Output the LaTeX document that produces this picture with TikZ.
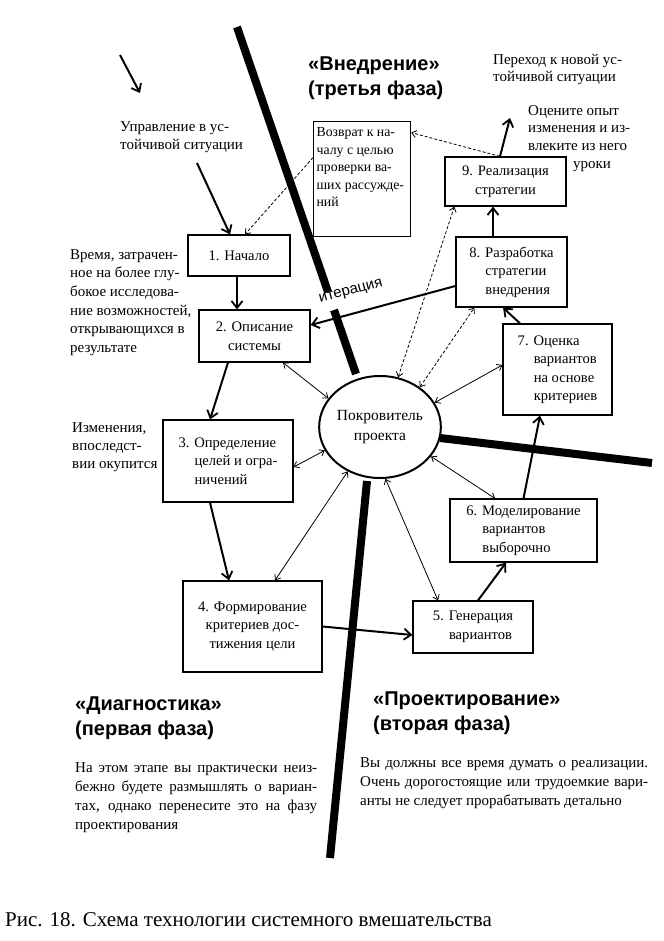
\documentclass[tikz,border=0pt]{standalone}
\usepackage{fontspec}
\setmainfont{Liberation Serif}
\newfontfamily\hsans{Liberation Sans}
\usetikzlibrary{arrows.meta,shapes.geometric,calc}
\newcommand\txtfont{\fontsize{14.6}{18.5}\selectfont}
\newcommand\hind{\hspace*{1.1em}}
\begin{document}
\begin{tikzpicture}[x=1pt,y=-1pt,
  every node/.style={inner sep=0pt},
  box/.style={draw, line width=1.2pt, align=center, font=\txtfont},
  txt/.style={anchor=north west, align=left, font=\fontsize{15}{18.5}\selectfont},
  head/.style={anchor=north west, align=left, font=\hsans\bfseries\fontsize{20}{24.5}\selectfont},
  para/.style={anchor=north west, align=justify, font=\fontsize{15}{19.2}\selectfont},
  phase/.style={line width=8pt, line cap=butt},
  flow/.style={line width=2pt, -{Straight Barb[length=7pt,width=11pt,line width=1.8pt]}},
  thin/.style={line width=0.8pt, {Straight Barb[length=4.5pt,width=7pt]}-{Straight Barb[length=4.5pt,width=7pt]}},
  dsh/.style={line width=0.8pt, dash pattern=on 3pt off 2pt}
]
\useasboundingbox[fill=white] (0,0) rectangle (663,941);

% phase separators
\draw[phase] (237,27) -- (328,292);
\draw[phase] (334,310) -- (356,374);
\draw[phase] (440,438) -- (652,463);
\draw[phase] (367,481) -- (330,858);

% boxes
\node[box, minimum width=102pt, minimum height=41pt] (b1) at (239,255.5) {1. Начало};
\node[box, minimum width=111pt, minimum height=52pt] (b2) at (254.5,336) {2. Описание\\системы};
\node[box, align=left, minimum width=130pt, minimum height=82pt] (b3) at (228,461) {3. Определение\\\hind целей и огра-\\\hind ничений};
\node[box, minimum width=139pt, minimum height=91pt] (b4) at (252.5,626.5) {4. Формирование\\критериев дос-\\тижения цели};
\node[box, align=left, minimum width=120pt, minimum height=52pt] (b5) at (473,627) {5. Генерация\\\hind вариантов};
\node[box, align=left, minimum width=147pt, minimum height=63pt] (b6) at (523.5,530.5) {6. Моделирование\\\hind вариантов\\\hind выборочно};
\node[box, align=left, minimum width=109pt, minimum height=91pt] (b7) at (557.5,369.5) {7. Оценка\\\hind вариантов\\\hind на основе\\\hind критериев};
\node[box, align=left, minimum width=111pt, minimum height=70pt] (b8) at (511.5,272) {8. Разработка\\\hind стратегии\\\hind внедрения};
\node[box, minimum width=121pt, minimum height=49pt] (b9) at (505.5,181.5) {9. Реализация\\стратегии};
\node[box, anchor=north west, inner xsep=3pt, inner ysep=3pt] (bR) at (313,121)
  {\parbox[t][109pt][t]{91pt}{\fontsize{13.8}{17.5}\selectfont\raggedright\strut Возврат к на-\\чалу с целью\\проверки ва-\\ших рассужде-\\ний}};
\node[draw, ellipse, line width=2pt, minimum width=118pt, minimum height=102pt, align=center, font=\fontsize{15.5}{19.5}\selectfont] (E) at (380,427) {Покровитель\\проекта};

% free texts
\node[txt] (tUpr) at (120,121) {Управление в ус-\\тойчивой ситуации};
\node[txt, font=\fontsize{15}{18.7}\selectfont] (tVr) at (70,249) {Время, затрачен-\\ное на более глу-\\бокое исследова-\\ние возможностей,\\открывающихся в\\результате};
\node[txt, font=\fontsize{15}{18.3}\selectfont] (tIz) at (72,422) {Изменения,\\впоследст-\\вии окупится};
\node[txt, font=\fontsize{15}{17}\selectfont] (tPer) at (493,54) {Переход к новой ус-\\тойчивой ситуации};
\node[txt, font=\fontsize{15}{17.7}\selectfont] (tOc) at (528,105) {Оцените опыт\\изменения и из-\\влеките из него\\\hspace*{45pt}уроки};

\node[head] (hVn) at (308,57) {«Внедрение»\\(третья фаза)};
\node[head] (hDi) at (75,697) {«Диагностика»\\(первая фаза)};
\node[head] (hPr) at (373,692) {«Проектирование»\\(вторая фаза)};

\node[para, text width=242pt] (pL) at (75,762) {На этом этапе вы практически неиз-\linebreak бежно будете размышлять о вариан-\linebreak тах, однако перенесите это на фазу\linebreak проектирования};
\node[para, text width=288pt] (pR) at (360,757) {Вы должны все время думать о реализации.\linebreak Очень дорогостоящие или трудоемкие вари-\linebreak анты не следует прорабатывать детально};

\node[anchor=north west, font=\fontsize{21}{24}\selectfont] (cap) at (5,912) {Рис. 18. Схема технологии системного вмешательства};

\node[font=\hsans\fontsize{15}{15}\selectfont, rotate=15] (it) at (351,292) {итерация};

% free ends
\coordinate (c0a) at (120,55);
\coordinate (c0b) at (140,93);
\coordinate (c1) at (197,163);
\coordinate (c9) at (510,118);

% main flow
\draw[flow] (c0a) -- (c0b);
\draw[flow] (c1) -- ([xshift=-9pt]b1.north);
\draw[flow] ([xshift=-2pt]b1.south) -- ([xshift=-17.5pt]b2.north);
\draw[flow] ([xshift=-26.5pt]b2.south) -- ([xshift=-18pt]b3.north);
\draw[flow] ([xshift=-18pt]b3.south) -- ([xshift=-23.5pt]b4.north);
\draw[flow] (b4.east) -- ([yshift=-8pt]b5.west);
\draw[flow] ([xshift=5pt]b5.north) -- ([xshift=-17.5pt]b6.south);
\draw[flow] (b6.north) -- ([xshift=-17.5pt]b7.south);
\draw[flow] ([xshift=-37.5pt]b7.north) -- ([xshift=-8.5pt]b8.south);
\draw[flow] ([xshift=-18.5pt]b8.north) -- ([xshift=-12.5pt]b9.south);
\draw[flow] ([xshift=-5.5pt]b9.north) -- (c9);
\draw[flow] ([yshift=-14pt]b8.west) -- ([yshift=11pt]b2.east);

% dashed links
\draw[dsh, -{Straight Barb[length=4.5pt,width=7pt]}] ([yshift=21.5pt]bR.west) -- ([xshift=6pt]b1.north);
\draw[dsh, -{Straight Barb[length=4.5pt,width=7pt]}] ([xshift=-5.5pt]b9.north) -- ([yshift=46.5pt]bR.east);
\draw[dsh, {Straight Barb[length=4.5pt,width=7pt]}-{Straight Barb[length=4.5pt,width=7pt]}] (E.70) -- ([xshift=10pt]b9.south west);
\draw[dsh, {Straight Barb[length=4.5pt,width=7pt]}-{Straight Barb[length=4.5pt,width=7pt]}] (E.45) -- ([xshift=19pt]b8.south west);

% sponsor links
\draw[thin] ([xshift=28.5pt]b2.south) -- (E.151);
\draw[thin] ([yshift=-6pt]b3.east) -- (E.203);
\draw[thin] ([xshift=22.5pt]b4.north) -- (E.234);
\draw[thin] ([xshift=-35pt]b5.north) -- (E.276);
\draw[thin] ([xshift=-28.5pt]b6.north) -- (E.-30);
\draw[thin] ([yshift=4.5pt]b7.west) -- (E.24);
\end{tikzpicture}
\end{document}
